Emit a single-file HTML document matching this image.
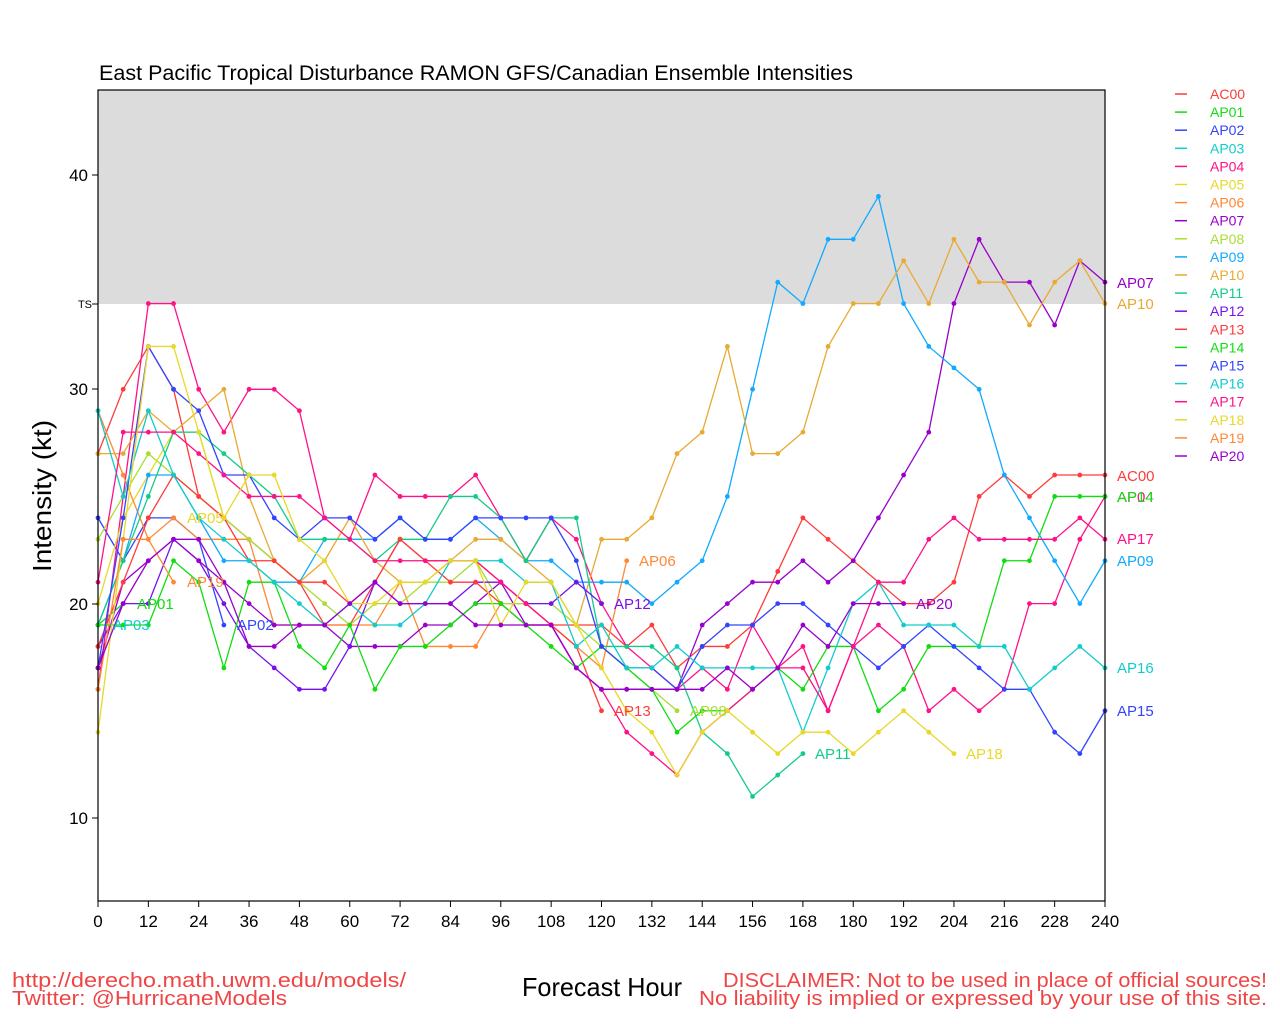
<!DOCTYPE html>
<html><head><meta charset="utf-8"><style>
html,body{margin:0;padding:0;background:#fff;}
svg{display:block;font-family:"Liberation Sans",sans-serif;}
</style></head><body>
<svg width="1280" height="1024" viewBox="0 0 1280 1024" xmlns="http://www.w3.org/2000/svg">
<defs>
<marker id="mr" markerUnits="userSpaceOnUse" overflow="visible" refX="0" refY="0" markerWidth="1" markerHeight="1"><ellipse rx="0.57" ry="0.112" fill="#ff3b3b"/></marker>
<marker id="mg" markerUnits="userSpaceOnUse" overflow="visible" refX="0" refY="0" markerWidth="1" markerHeight="1"><ellipse rx="0.57" ry="0.112" fill="#11dd11"/></marker>
<marker id="mb" markerUnits="userSpaceOnUse" overflow="visible" refX="0" refY="0" markerWidth="1" markerHeight="1"><ellipse rx="0.57" ry="0.112" fill="#3344ff"/></marker>
<marker id="mc" markerUnits="userSpaceOnUse" overflow="visible" refX="0" refY="0" markerWidth="1" markerHeight="1"><ellipse rx="0.57" ry="0.112" fill="#11cccc"/></marker>
<marker id="mp" markerUnits="userSpaceOnUse" overflow="visible" refX="0" refY="0" markerWidth="1" markerHeight="1"><ellipse rx="0.57" ry="0.112" fill="#ff1188"/></marker>
<marker id="my" markerUnits="userSpaceOnUse" overflow="visible" refX="0" refY="0" markerWidth="1" markerHeight="1"><ellipse rx="0.57" ry="0.112" fill="#e8d82a"/></marker>
<marker id="mo" markerUnits="userSpaceOnUse" overflow="visible" refX="0" refY="0" markerWidth="1" markerHeight="1"><ellipse rx="0.57" ry="0.112" fill="#ff8833"/></marker>
<marker id="mv" markerUnits="userSpaceOnUse" overflow="visible" refX="0" refY="0" markerWidth="1" markerHeight="1"><ellipse rx="0.57" ry="0.112" fill="#9900cc"/></marker>
<marker id="ml" markerUnits="userSpaceOnUse" overflow="visible" refX="0" refY="0" markerWidth="1" markerHeight="1"><ellipse rx="0.57" ry="0.112" fill="#a8de33"/></marker>
<marker id="ms" markerUnits="userSpaceOnUse" overflow="visible" refX="0" refY="0" markerWidth="1" markerHeight="1"><ellipse rx="0.57" ry="0.112" fill="#11aaff"/></marker>
<marker id="mo2" markerUnits="userSpaceOnUse" overflow="visible" refX="0" refY="0" markerWidth="1" markerHeight="1"><ellipse rx="0.57" ry="0.112" fill="#e8aa33"/></marker>
<marker id="mt" markerUnits="userSpaceOnUse" overflow="visible" refX="0" refY="0" markerWidth="1" markerHeight="1"><ellipse rx="0.57" ry="0.112" fill="#11cc88"/></marker>
<marker id="mi" markerUnits="userSpaceOnUse" overflow="visible" refX="0" refY="0" markerWidth="1" markerHeight="1"><ellipse rx="0.57" ry="0.112" fill="#7711ee"/></marker>
</defs>

<!-- TS band -->
<rect x="98" y="90" width="1007" height="214" fill="#dcdcdc"/>

<g transform="matrix(4.19583 0 0 -21.43 98 1032.2)" fill="none" stroke-width="1.3" stroke-linejoin="round">
<polyline vector-effect="non-scaling-stroke" stroke="#ff3b3b" marker-start="url(#mr)" marker-mid="url(#mr)" marker-end="url(#mr)" points="0,27 6,30 12,32 18,30 24,25 30,24 36,23 42,22 48,21 54,19 60,19 66,21 72,23 78,22 84,22 90,22 96,21 102,20 108,19 114,19 120,19 126,18 132,19 138,17 144,18 150,18 156,19 162,21.5 168,24 174,23 180,22 186,21 192,20 198,20 204,21 210,25 216,26 222,25 228,26 234,26 240,26"/>
<polyline vector-effect="non-scaling-stroke" stroke="#11dd11" marker-start="url(#mg)" marker-mid="url(#mg)" marker-end="url(#mg)" points="0,19 6,20"/>
<polyline vector-effect="non-scaling-stroke" stroke="#3344ff" marker-start="url(#mb)" marker-mid="url(#mb)" marker-end="url(#mb)" points="0,24 6,22 12,24 18,24 24,23 30,19"/>
<polyline vector-effect="non-scaling-stroke" stroke="#11cccc" marker-start="url(#mc)" marker-mid="url(#mc)" marker-end="url(#mc)" points="0,19 0.01,19"/>
<polyline vector-effect="non-scaling-stroke" stroke="#ff1188" marker-start="url(#mp)" marker-mid="url(#mp)" marker-end="url(#mp)" points="0,16 6,25 12,34 18,34 24,30 30,28 36,30 42,30 48,29 54,24 60,23 66,26 72,25 78,25 84,25 90,26 96,24 102,22 108,24 114,23 120,20 126,18 132,17 138,16 144,17 150,16 156,19 162,17 168,18 174,15 180,18 186,19 192,18 198,15 204,16 210,15 216,16 222,20 228,20 234,23 240,25"/>
<polyline vector-effect="non-scaling-stroke" stroke="#e8d82a" marker-start="url(#my)" marker-mid="url(#my)" marker-end="url(#my)" points="0,20 6,24 12,26 18,28 24,28 30,24"/>
<polyline vector-effect="non-scaling-stroke" stroke="#ff8833" marker-start="url(#mo)" marker-mid="url(#mo)" marker-end="url(#mo)" points="0,29 6,26 12,23 18,24 24,23 30,23 36,23 42,19 48,19 54,19 60,19 66,19 72,21 78,18 84,18 90,18 96,20 102,20 108,19 114,18 120,17 126,22"/>
<polyline vector-effect="non-scaling-stroke" stroke="#9900cc" marker-start="url(#mv)" marker-mid="url(#mv)" marker-end="url(#mv)" points="0,17 6,21 12,22 18,23 24,23 30,21 36,20 42,19 48,19 54,19 60,18 66,18 72,18 78,19 84,19 90,20 96,21 102,19 108,19 114,17 120,16 126,16 132,16 138,16 144,19 150,20 156,21 162,21 168,22 174,21 180,22 186,24 192,26 198,28 204,34 210,37 216,35 222,35 228,33 234,36 240,35"/>
<polyline vector-effect="non-scaling-stroke" stroke="#a8de33" marker-start="url(#ml)" marker-mid="url(#ml)" marker-end="url(#ml)" points="0,23 6,25 12,27 18,26 24,25 30,24 36,23 42,22 48,21 54,20 60,19 66,20 72,20 78,21 84,21 90,22 96,20 102,20 108,20 114,19 120,18 126,17 132,16 138,15"/>
<polyline vector-effect="non-scaling-stroke" stroke="#11aaff" marker-start="url(#ms)" marker-mid="url(#ms)" marker-end="url(#ms)" points="0,19 6,22 12,26 18,26 24,24 30,22 36,22 42,21 48,21 54,23 60,23 66,23 72,24 78,23 84,23 90,24 96,23 102,22 108,22 114,21 120,21 126,21 132,20 138,21 144,22 150,25 156,30 162,35 168,34 174,37 180,37 186,39 192,34 198,32 204,31 210,30 216,26 222,24 228,22 234,20 240,22"/>
<polyline vector-effect="non-scaling-stroke" stroke="#e8aa33" marker-start="url(#mo2)" marker-mid="url(#mo2)" marker-end="url(#mo2)" points="0,27 6,27 12,29 18,28 24,29 30,30 36,25 42,22 48,21 54,22 60,24 66,22 72,21 78,21 84,22 90,23 96,23 102,22 108,21 114,19 120,23 126,23 132,24 138,27 144,28 150,32 156,27 162,27 168,28 174,32 180,34 186,34 192,36 198,34 204,37 210,35 216,35 222,33 228,35 234,36 240,34"/>
<polyline vector-effect="non-scaling-stroke" stroke="#11cc88" marker-start="url(#mt)" marker-mid="url(#mt)" marker-end="url(#mt)" points="0,19 6,22 12,25 18,28 24,28 30,27 36,26 42,25 48,23 54,23 60,23 66,22 72,23 78,23 84,25 90,25 96,24 102,22 108,24 114,24 120,18 126,18 132,18 138,17 144,14 150,13 156,11 162,12 168,13"/>
<polyline vector-effect="non-scaling-stroke" stroke="#7711ee" marker-start="url(#mi)" marker-mid="url(#mi)" marker-end="url(#mi)" points="0,18 6,20 12,20 18,23 24,22 30,20 36,18 42,17 48,16 54,16 60,18 66,21 72,20 78,20 84,20 90,21 96,21 102,20 108,20 114,21 120,20"/>
<polyline vector-effect="non-scaling-stroke" stroke="#ff3b3b" marker-start="url(#mr)" marker-mid="url(#mr)" marker-end="url(#mr)" points="0,18 6,21 12,24 18,26 24,25 30,24 36,22 42,22 48,21 54,21 60,20 66,21 72,23 78,22 84,21 90,21 96,20 102,19 108,19 114,18 120,15"/>
<polyline vector-effect="non-scaling-stroke" stroke="#11dd11" marker-start="url(#mg)" marker-mid="url(#mg)" marker-end="url(#mg)" points="0,19 6,19 12,19 18,22 24,21 30,17 36,21 42,21 48,18 54,17 60,19 66,16 72,18 78,18 84,19 90,20 96,20 102,19 108,18 114,17 120,18 126,17 132,16 138,14 144,15 150,15 156,16 162,17 168,16 174,18 180,18 186,15 192,16 198,18 204,18 210,18 216,22 222,22 228,25 234,25 240,25"/>
<polyline vector-effect="non-scaling-stroke" stroke="#3344ff" marker-start="url(#mb)" marker-mid="url(#mb)" marker-end="url(#mb)" points="0,17 6,24 12,32 18,30 24,29 30,26 36,26 42,24 48,23 54,24 60,24 66,23 72,24 78,23 84,23 90,24 96,24 102,24 108,24 114,22 120,18 126,17 132,17 138,16 144,18 150,19 156,19 162,20 168,20 174,19 180,18 186,17 192,18 198,19 204,18 210,17 216,16 222,16 228,14 234,13 240,15"/>
<polyline vector-effect="non-scaling-stroke" stroke="#11cccc" marker-start="url(#mc)" marker-mid="url(#mc)" marker-end="url(#mc)" points="0,29 6,25 12,29 18,26 24,24 30,23 36,22 42,21 48,20 54,19 60,20 66,19 72,19 78,20 84,22 90,22 96,22 102,21 108,21 114,18 120,19 126,17 132,17 138,18 144,17 150,17 156,17 162,17 168,14 174,17 180,20 186,21 192,19 198,19 204,19 210,18 216,18 222,16 228,17 234,18 240,17"/>
<polyline vector-effect="non-scaling-stroke" stroke="#ff1188" marker-start="url(#mp)" marker-mid="url(#mp)" marker-end="url(#mp)" points="0,21 6,28 12,28 18,28 24,27 30,26 36,25 42,25 48,25 54,24 60,23 66,22 72,22 78,22 84,22 90,22 96,21 102,20 108,19 114,17 120,16 126,14 132,13 138,12 144,14 150,15 156,16 162,17 168,17 174,15 180,18 186,21 192,21 198,23 204,24 210,23 216,23 222,23 228,23 234,24 240,23"/>
<polyline vector-effect="non-scaling-stroke" stroke="#e8d82a" marker-start="url(#my)" marker-mid="url(#my)" marker-end="url(#my)" points="0,14 6,23 12,32 18,32 24,28 30,24 36,26 42,26 48,23 54,22 60,20 66,20 72,21 78,21 84,22 90,22 96,19 102,21 108,21 114,19 120,17 126,15 132,14 138,12 144,14 150,15 156,14 162,13 168,14 174,14 180,13 186,14 192,15 198,14 204,13"/>
<polyline vector-effect="non-scaling-stroke" stroke="#ff8833" marker-start="url(#mo)" marker-mid="url(#mo)" marker-end="url(#mo)" points="0,16 6,23 12,23 18,21"/>
<polyline vector-effect="non-scaling-stroke" stroke="#9900cc" marker-start="url(#mv)" marker-mid="url(#mv)" marker-end="url(#mv)" points="0,17 6,20 12,22 18,23 24,22 30,21 36,18 42,18 48,19 54,19 60,20 66,21 72,20 78,20 84,20 90,19 96,19 102,19 108,19 114,17 120,16 126,16 132,16 138,16 144,16 150,17 156,16 162,17 168,19 174,18 180,20 186,20 192,20"/>
</g>

<!-- frame -->
<rect x="98" y="90" width="1007" height="811" fill="none" stroke="#000" stroke-width="1.2"/>

<!-- y ticks -->
<g stroke="#000" stroke-width="1">
<line x1="92" y1="175" x2="98" y2="175"/>
<line x1="92" y1="304" x2="98" y2="304"/>
<line x1="92" y1="389" x2="98" y2="389"/>
<line x1="92" y1="604" x2="98" y2="604"/>
<line x1="92" y1="818" x2="98" y2="818"/>
</g>
<g font-size="17" fill="#000" text-anchor="end">
<text x="88" y="181">40</text>
<text x="88" y="395">30</text>
<text x="88" y="610">20</text>
<text x="88" y="824">10</text>
</g>
<text x="92" y="308" font-size="11" text-anchor="end" fill="#000">TS</text>

<!-- x ticks -->
<g stroke="#000" stroke-width="1">
<line x1="98" y1="901" x2="98" y2="907"/><line x1="148.35" y1="901" x2="148.35" y2="907"/><line x1="198.7" y1="901" x2="198.7" y2="907"/><line x1="249.05" y1="901" x2="249.05" y2="907"/><line x1="299.4" y1="901" x2="299.4" y2="907"/><line x1="349.75" y1="901" x2="349.75" y2="907"/><line x1="400.1" y1="901" x2="400.1" y2="907"/><line x1="450.45" y1="901" x2="450.45" y2="907"/><line x1="500.8" y1="901" x2="500.8" y2="907"/><line x1="551.15" y1="901" x2="551.15" y2="907"/><line x1="601.5" y1="901" x2="601.5" y2="907"/><line x1="651.85" y1="901" x2="651.85" y2="907"/><line x1="702.2" y1="901" x2="702.2" y2="907"/><line x1="752.55" y1="901" x2="752.55" y2="907"/><line x1="802.9" y1="901" x2="802.9" y2="907"/><line x1="853.25" y1="901" x2="853.25" y2="907"/><line x1="903.6" y1="901" x2="903.6" y2="907"/><line x1="953.95" y1="901" x2="953.95" y2="907"/><line x1="1004.3" y1="901" x2="1004.3" y2="907"/><line x1="1054.65" y1="901" x2="1054.65" y2="907"/><line x1="1105" y1="901" x2="1105" y2="907"/>
</g>
<g font-size="17" fill="#000" text-anchor="middle">
<text x="98" y="927">0</text><text x="148.35" y="927">12</text><text x="198.7" y="927">24</text><text x="249.05" y="927">36</text><text x="299.4" y="927">48</text><text x="349.75" y="927">60</text><text x="400.1" y="927">72</text><text x="450.45" y="927">84</text><text x="500.8" y="927">96</text><text x="551.15" y="927">108</text><text x="601.5" y="927">120</text><text x="651.85" y="927">132</text><text x="702.2" y="927">144</text><text x="752.55" y="927">156</text><text x="802.9" y="927">168</text><text x="853.25" y="927">180</text><text x="903.6" y="927">192</text><text x="953.95" y="927">204</text><text x="1004.3" y="927">216</text><text x="1054.65" y="927">228</text><text x="1105" y="927">240</text>
</g>

<!-- in-plot labels -->
<g font-size="15">
<text x="137" y="609" fill="#11dd11">AP01</text>
<text x="113" y="630" fill="#11cccc">AP03</text>
<text x="237" y="630" fill="#3344ff">AP02</text>
<text x="187" y="523" fill="#e8d82a">AP05</text>
<text x="187" y="587" fill="#ff8833">AP19</text>
<text x="639" y="566" fill="#ff8833">AP06</text>
<text x="614" y="609" fill="#7711ee">AP12</text>
<text x="614" y="716" fill="#ff3b3b">AP13</text>
<text x="690" y="716" fill="#a8de33">AP08</text>
<text x="815" y="759" fill="#11cc88">AP11</text>
<text x="966" y="759" fill="#e8d82a">AP18</text>
<text x="916" y="609" fill="#9900cc">AP20</text>
<text x="1117" y="288" fill="#9900cc">AP07</text>
<text x="1117" y="309" fill="#e8aa33">AP10</text>
<text x="1117" y="481" fill="#ff3b3b">AC00</text>
<text x="1117" y="502" fill="#ff1188">AP04</text>
<text x="1117" y="502" fill="#11dd11">AP14</text>
<text x="1117" y="544" fill="#ff1188">AP17</text>
<text x="1117" y="566" fill="#11aaff">AP09</text>
<text x="1117" y="673" fill="#11cccc">AP16</text>
<text x="1117" y="716" fill="#3344ff">AP15</text>
</g>

<!-- legend -->
<g stroke-width="1.5">
<line x1="1175" y1="94" x2="1187" y2="94" stroke="#ff3b3b"/>
<line x1="1175" y1="112.1" x2="1187" y2="112.1" stroke="#11dd11"/>
<line x1="1175" y1="130.2" x2="1187" y2="130.2" stroke="#3344ff"/>
<line x1="1175" y1="148.3" x2="1187" y2="148.3" stroke="#11cccc"/>
<line x1="1175" y1="166.4" x2="1187" y2="166.4" stroke="#ff1188"/>
<line x1="1175" y1="184.5" x2="1187" y2="184.5" stroke="#e8d82a"/>
<line x1="1175" y1="202.6" x2="1187" y2="202.6" stroke="#ff8833"/>
<line x1="1175" y1="220.7" x2="1187" y2="220.7" stroke="#9900cc"/>
<line x1="1175" y1="238.8" x2="1187" y2="238.8" stroke="#a8de33"/>
<line x1="1175" y1="256.9" x2="1187" y2="256.9" stroke="#11aaff"/>
<line x1="1175" y1="275" x2="1187" y2="275" stroke="#e8aa33"/>
<line x1="1175" y1="293.1" x2="1187" y2="293.1" stroke="#11cc88"/>
<line x1="1175" y1="311.2" x2="1187" y2="311.2" stroke="#7711ee"/>
<line x1="1175" y1="329.3" x2="1187" y2="329.3" stroke="#ff3b3b"/>
<line x1="1175" y1="347.4" x2="1187" y2="347.4" stroke="#11dd11"/>
<line x1="1175" y1="365.5" x2="1187" y2="365.5" stroke="#3344ff"/>
<line x1="1175" y1="383.6" x2="1187" y2="383.6" stroke="#11cccc"/>
<line x1="1175" y1="401.7" x2="1187" y2="401.7" stroke="#ff1188"/>
<line x1="1175" y1="419.8" x2="1187" y2="419.8" stroke="#e8d82a"/>
<line x1="1175" y1="437.9" x2="1187" y2="437.9" stroke="#ff8833"/>
<line x1="1175" y1="456" x2="1187" y2="456" stroke="#9900cc"/>
</g>
<g font-size="14">
<text x="1210" y="99" fill="#ff3b3b">AC00</text>
<text x="1210" y="117.1" fill="#11dd11">AP01</text>
<text x="1210" y="135.2" fill="#3344ff">AP02</text>
<text x="1210" y="153.3" fill="#11cccc">AP03</text>
<text x="1210" y="171.4" fill="#ff1188">AP04</text>
<text x="1210" y="189.5" fill="#e8d82a">AP05</text>
<text x="1210" y="207.6" fill="#ff8833">AP06</text>
<text x="1210" y="225.7" fill="#9900cc">AP07</text>
<text x="1210" y="243.8" fill="#a8de33">AP08</text>
<text x="1210" y="261.9" fill="#11aaff">AP09</text>
<text x="1210" y="280" fill="#e8aa33">AP10</text>
<text x="1210" y="298.1" fill="#11cc88">AP11</text>
<text x="1210" y="316.2" fill="#7711ee">AP12</text>
<text x="1210" y="334.3" fill="#ff3b3b">AP13</text>
<text x="1210" y="352.4" fill="#11dd11">AP14</text>
<text x="1210" y="370.5" fill="#3344ff">AP15</text>
<text x="1210" y="388.6" fill="#11cccc">AP16</text>
<text x="1210" y="406.7" fill="#ff1188">AP17</text>
<text x="1210" y="424.8" fill="#e8d82a">AP18</text>
<text x="1210" y="442.9" fill="#ff8833">AP19</text>
<text x="1210" y="461" fill="#9900cc">AP20</text>
</g>

<!-- titles -->
<text x="99" y="80" font-size="21" fill="#000" textLength="754" lengthAdjust="spacingAndGlyphs">East Pacific Tropical Disturbance RAMON GFS/Canadian Ensemble Intensities</text>
<text transform="translate(51,496) rotate(-90)" font-size="26" text-anchor="middle" fill="#000" textLength="152" lengthAdjust="spacingAndGlyphs">Intensity (kt)</text>
<text x="522" y="996" font-size="26" fill="#000" textLength="160" lengthAdjust="spacingAndGlyphs">Forecast Hour</text>

<!-- footer -->
<g font-size="20" fill="#f04545">
<text x="12" y="987" textLength="394" lengthAdjust="spacingAndGlyphs">http://derecho.math.uwm.edu/models/</text>
<text x="12" y="1005" textLength="275" lengthAdjust="spacingAndGlyphs">Twitter: @HurricaneModels</text>
<text x="723" y="987" textLength="544" lengthAdjust="spacingAndGlyphs">DISCLAIMER: Not to be used in place of official sources!</text>
<text x="699" y="1005" textLength="568" lengthAdjust="spacingAndGlyphs">No liability is implied or expressed by your use of this site.</text>
</g>
</svg>
</body></html>
